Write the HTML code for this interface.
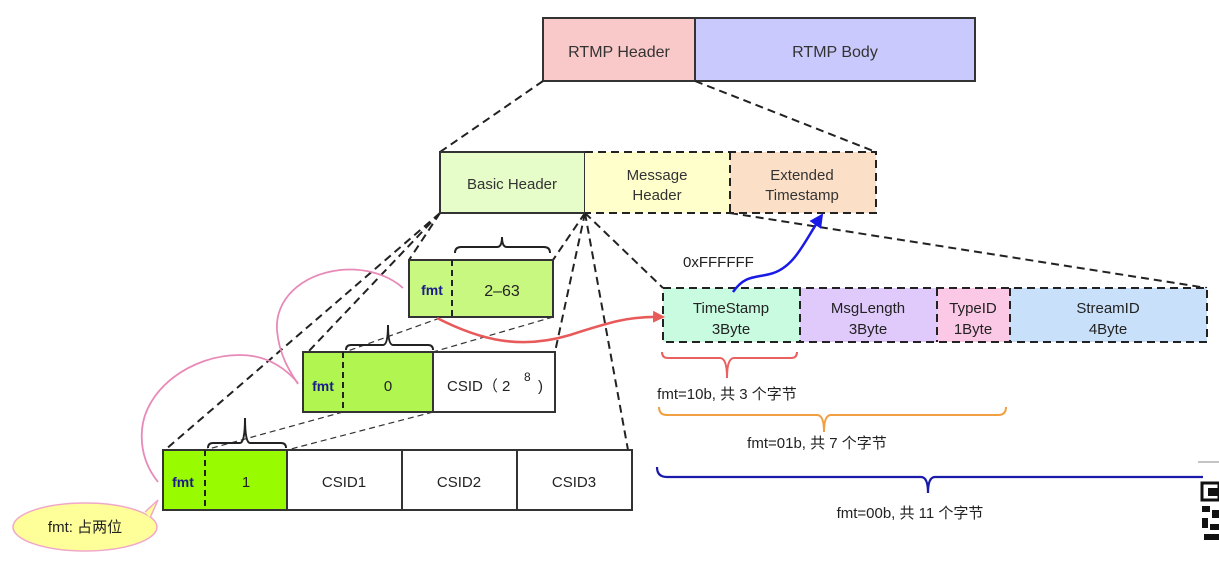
<!DOCTYPE html>
<html><head><meta charset="utf-8"><style>
html,body{margin:0;padding:0;background:#fff;}
svg text{font-family:"Liberation Sans","Noto Sans CJK SC",sans-serif;}
</style></head><body>
<svg width="1219" height="564" viewBox="0 0 1219 564" xmlns="http://www.w3.org/2000/svg">
<defs>
<marker id="ar" markerWidth="12" markerHeight="12" refX="10" refY="6" orient="auto" markerUnits="userSpaceOnUse"><path d="M0,0 L12,6 L0,12 z" fill="#e85a5a"/></marker>
<marker id="ab" markerWidth="14" markerHeight="14" refX="12" refY="7" orient="auto" markerUnits="userSpaceOnUse"><path d="M0,0 L14,7 L0,14 z" fill="#1a1ae6"/></marker>
</defs>
<rect x="543" y="18" width="152" height="63" fill="#f9c9c9" stroke="#333" stroke-width="2"/>
<rect x="695" y="18" width="280" height="63" fill="#c9c9fd" stroke="#333" stroke-width="2"/>
<text x="619" y="57" font-size="16" text-anchor="middle" fill="#333">RTMP Header</text>
<text x="835" y="57" font-size="16" text-anchor="middle" fill="#333">RTMP Body</text>
<g stroke="#222" stroke-width="2" stroke-dasharray="8,5" fill="none">
<line x1="543" y1="81" x2="440" y2="152"/>
<line x1="695" y1="81" x2="876" y2="152"/>
<line x1="730" y1="213" x2="1207" y2="288"/>
<line x1="585" y1="213" x2="663" y2="288"/>
<line x1="440" y1="213" x2="409" y2="260"/>
<line x1="440" y1="213" x2="308" y2="352"/>
<line x1="440" y1="213" x2="165" y2="450"/>
<line x1="585" y1="213" x2="553" y2="260"/>
<line x1="585" y1="213" x2="555" y2="352"/>
<line x1="585" y1="213" x2="628" y2="450"/>
</g>
<rect x="440" y="152" width="145" height="61" fill="#e6fcc9" stroke="#333" stroke-width="2"/>
<rect x="585" y="152" width="145" height="61" fill="#ffffcc"/>
<rect x="730" y="152" width="146" height="61" fill="#fbe0c7"/>
<g stroke="#222" stroke-width="2" stroke-dasharray="8,5" fill="none">
<path d="M585,152 H876 V213 H585"/><line x1="730" y1="152" x2="730" y2="213"/>
</g>
<text x="512" y="189" font-size="15" text-anchor="middle" fill="#333">Basic Header</text>
<text x="657" y="180" font-size="15" text-anchor="middle" fill="#333">Message</text>
<text x="657" y="200" font-size="15" text-anchor="middle" fill="#333">Header</text>
<text x="802" y="180" font-size="15" text-anchor="middle" fill="#333">Extended</text>
<text x="802" y="200" font-size="15" text-anchor="middle" fill="#333">Timestamp</text>
<rect x="409" y="260" width="144" height="57" fill="#c8f880" stroke="#333" stroke-width="2"/>
<line x1="452" y1="260" x2="452" y2="317" stroke="#222" stroke-width="2" stroke-dasharray="6,4"/>
<text x="432" y="295" font-size="14" font-weight="bold" text-anchor="middle" fill="#1a1a8a">fmt</text>
<text x="502" y="296" font-size="16" text-anchor="middle" fill="#222">2–63</text>
<path d="M455,253 q0,-6 6,-6 h36 q5,0 5,-10 q0,10 5,10 h37 q6,0 6,6" fill="none" stroke="#222" stroke-width="2"/>
<g stroke="#333" stroke-width="1.2" stroke-dasharray="6,4">
<line x1="440" y1="318" x2="345" y2="352"/><line x1="553" y1="317" x2="433" y2="352"/>
<line x1="343" y1="412" x2="205" y2="450"/><line x1="433" y1="412" x2="287" y2="450"/>
</g>
<rect x="303" y="352" width="130" height="60" fill="#b0f550" stroke="#333" stroke-width="2"/>
<rect x="433" y="352" width="122" height="60" fill="#fff" stroke="#333" stroke-width="2"/>
<line x1="343" y1="352" x2="343" y2="412" stroke="#222" stroke-width="2" stroke-dasharray="6,4"/>
<text x="323" y="391" font-size="14" font-weight="bold" text-anchor="middle" fill="#1a1a8a">fmt</text>
<text x="388" y="391" font-size="15" text-anchor="middle" fill="#222">0</text>
<text x="447" y="391" font-size="15" fill="#222">CSID（ 2</text>
<text x="524" y="381" font-size="12" fill="#222">8</text>
<text x="538" y="391" font-size="15" fill="#222">)</text>
<path d="M346,350 q0,-5 5,-5 h32 q5,0 5,-20 q0,20 5,20 h35 q5,0 5,5" fill="none" stroke="#222" stroke-width="2"/>
<rect x="163" y="450" width="124" height="60" fill="#99fb00" stroke="#333" stroke-width="2"/>
<line x1="205" y1="450" x2="205" y2="510" stroke="#222" stroke-width="2" stroke-dasharray="6,4"/>
<rect x="287" y="450" width="115" height="60" fill="#fff" stroke="#333" stroke-width="2"/>
<rect x="402" y="450" width="115" height="60" fill="#fff" stroke="#333" stroke-width="2"/>
<rect x="517" y="450" width="115" height="60" fill="#fff" stroke="#333" stroke-width="2"/>
<text x="183" y="487" font-size="14" font-weight="bold" text-anchor="middle" fill="#1a1a8a">fmt</text>
<text x="246" y="487" font-size="15" text-anchor="middle" fill="#222">1</text>
<text x="344" y="487" font-size="15" text-anchor="middle" fill="#222">CSID1</text>
<text x="459" y="487" font-size="15" text-anchor="middle" fill="#222">CSID2</text>
<text x="574" y="487" font-size="15" text-anchor="middle" fill="#222">CSID3</text>
<path d="M208,448 q0,-5 5,-5 h27 q5,0 5,-25 q0,25 5,25 h31 q5,0 5,5" fill="none" stroke="#222" stroke-width="2"/>
<g stroke="#e88ab8" stroke-width="1.8" fill="none">
<path d="M403,288 C385,272 360,268 340,270 C300,275 275,300 277,330 C279,355 290,372 298,384"/>
<path d="M298,383 C280,362 260,355 240,355 C190,355 145,390 142,430 C140,455 150,472 158,482"/>
</g>
<ellipse cx="85" cy="527" rx="72" ry="24" fill="#ffff99" stroke="#f0a8c8" stroke-width="1.5"/>
<path d="M145,512 L158,500 L150,518" fill="#ffff99" stroke="#f0a8c8" stroke-width="1.5"/>
<text x="85" y="532" font-size="15" text-anchor="middle" fill="#222">fmt: 占两位</text>
<rect x="663" y="288" width="137" height="54" fill="#c9fbe0"/>
<rect x="800" y="288" width="137" height="54" fill="#e0c9fb"/>
<rect x="937" y="288" width="73" height="54" fill="#fbc9e6"/>
<rect x="1010" y="288" width="197" height="54" fill="#c9e0fb"/>
<g stroke="#222" stroke-width="2" stroke-dasharray="8,5" fill="none">
<rect x="663" y="288" width="544" height="54"/>
<line x1="800" y1="288" x2="800" y2="342"/><line x1="937" y1="288" x2="937" y2="342"/><line x1="1010" y1="288" x2="1010" y2="342"/>
</g>
<g font-size="15" text-anchor="middle" fill="#222">
<text x="731" y="313">TimeStamp</text><text x="731" y="334">3Byte</text>
<text x="868" y="313">MsgLength</text><text x="868" y="334">3Byte</text>
<text x="973" y="313">TypeID</text><text x="973" y="334">1Byte</text>
<text x="1108" y="313">StreamID</text><text x="1108" y="334">4Byte</text>
</g>
<text x="683" y="267" font-size="15" fill="#222">0xFFFFFF</text>
<path d="M437,318 C480,340 520,350 570,335 C610,322 630,316 663,317" fill="none" stroke="#e85a5a" stroke-width="2.5" marker-end="url(#ar)"/>
<path d="M733,292 C745,275 755,278 770,274 C795,268 805,240 822,215" fill="none" stroke="#1a1ae6" stroke-width="2.5" marker-end="url(#ab)"/>
<path d="M662,352 q0,6 6,6 h52 q7,0 7,20 q0,-20 7,-20 h57 q6,0 6,-6" fill="none" stroke="#e86060" stroke-width="2"/>
<text x="727" y="399" font-size="15" text-anchor="middle" fill="#222">fmt=10b, 共 3 个字节</text>
<path d="M659,407 q0,8 8,8 h150 q7,0 7,17 q0,-17 7,-17 h167 q8,0 8,-8" fill="none" stroke="#f0a040" stroke-width="2"/>
<text x="817" y="448" font-size="15" text-anchor="middle" fill="#222">fmt=01b, 共 7 个字节</text>
<path d="M657,467 q0,10 10,10 h254 q7,0 7,16 q0,-16 7,-16 h268" fill="none" stroke="#1a1aaa" stroke-width="2.2"/>
<text x="910" y="518" font-size="15" text-anchor="middle" fill="#222">fmt=00b, 共 11 个字节</text>
<line x1="1198" y1="462" x2="1219" y2="462" stroke="#888" stroke-width="1"/>
<rect x="1202" y="483" width="17" height="17" fill="none" stroke="#111" stroke-width="3"/>
<rect x="1208" y="488" width="11" height="8" fill="#111"/>
<rect x="1202" y="506" width="8" height="6" fill="#111"/><rect x="1212" y="510" width="7" height="8" fill="#111"/>
<rect x="1202" y="518" width="6" height="10" fill="#111"/><rect x="1210" y="524" width="9" height="6" fill="#111"/>
<rect x="1204" y="534" width="15" height="6" fill="#111"/>
</svg>
</body></html>
